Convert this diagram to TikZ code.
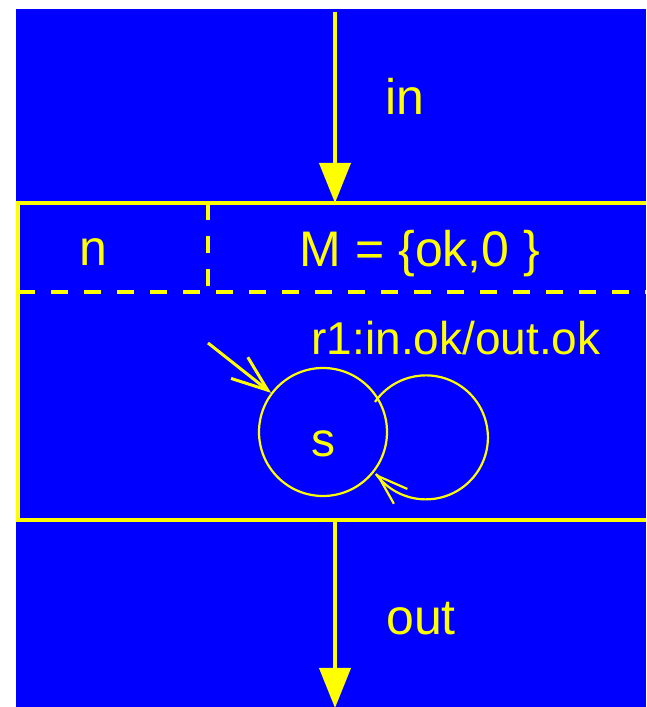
\documentclass[tikz,border=0pt]{standalone}
\usepackage{fontspec}
\setmainfont{Liberation Sans}
\usetikzlibrary{arrows.meta}
\definecolor{bgblue}{RGB}{0,0,255}
\definecolor{ylw}{RGB}{255,255,0}
\begin{document}
\begin{tikzpicture}[x=1pt,y=1pt,
  lbl/.style={text=ylw, inner sep=0pt, anchor=base, font=\fontsize{50}{60}\selectfont},
  flow/.style={draw=ylw, line width=4pt, -{Triangle[length=40pt,width=31pt]}},
  boxline/.style={draw=ylw, line width=3.2pt},
  divider/.style={draw=ylw, line width=3.2pt, dash pattern=on 17pt off 16pt},
  state/.style={circle, draw=ylw, line width=2.2pt, minimum size=128pt, inner sep=0pt,
    text=ylw, text height=50pt, text depth=0pt, font=\fontsize{48}{58}\selectfont},
  initarrow/.style={draw=ylw, line width=3pt, -{Straight Barb[length=36pt,width=27pt]}},
  loopline/.style={draw=ylw, line width=2.2pt},
  looptip/.style={draw=ylw, line width=2.2pt, -{Straight Barb[length=30pt,width=20pt]}},
]
\useasboundingbox (0,0) rectangle (646,707);
\clip (0,0) rectangle (646,707);
\fill[white] (0,0) rectangle (646,707);
\fill[bgblue] (16,0) rectangle (646,698);

% box
\coordinate (boxTR) at (660,504);
\coordinate (boxTL) at (18,504);
\coordinate (boxBL) at (18,187);
\coordinate (boxBR) at (660,187);
\draw[boxline] (boxTR) -- (boxTL) -- (boxBL) -- (boxBR);

% dividers
\coordinate (divL) at (18,415);
\coordinate (divR) at (660,415);
\coordinate (vTop) at (208,504);
\coordinate (vBot) at (208,415);
\draw[divider] (divL) -- (divR);
\draw[divider] (vTop) -- (vBot);

% in / out arrows
\coordinate (inStart) at (335,695);
\coordinate (inEnd) at (335,504);
\draw[flow] (inStart) -- (inEnd);
\coordinate (outStart) at (335,187);
\coordinate (outEnd) at (335,-1);
\draw[flow] (outStart) -- (outEnd);

% labels
\node[lbl] (inlbl) at (405,592) {in};
\node[lbl] (nlbl) at (93.5,441) {n};
\node[lbl] (mlbl) at (420,440) {M = \{ok,0 \}};
\node[lbl, font=\fontsize{46}{55}\selectfont] (rlbl) at (456,352) {r1:in.ok/out.ok};
\node[lbl] (outlbl) at (421,72) {out};

% state
\node[state] (s) at (323,275) {s};
\coordinate (initStart) at (208,364);
\draw[initarrow] (initStart) -- (s.143);
\coordinate (loopStart) at (375,305);
\draw[loopline] (loopStart) arc[start angle=145.2, end angle=-143.9, radius=62] coordinate (loopEnd);
\draw[looptip] ([shift={(0.74,-0.67)}]loopEnd) -- (loopEnd);
\end{tikzpicture}
\end{document}
